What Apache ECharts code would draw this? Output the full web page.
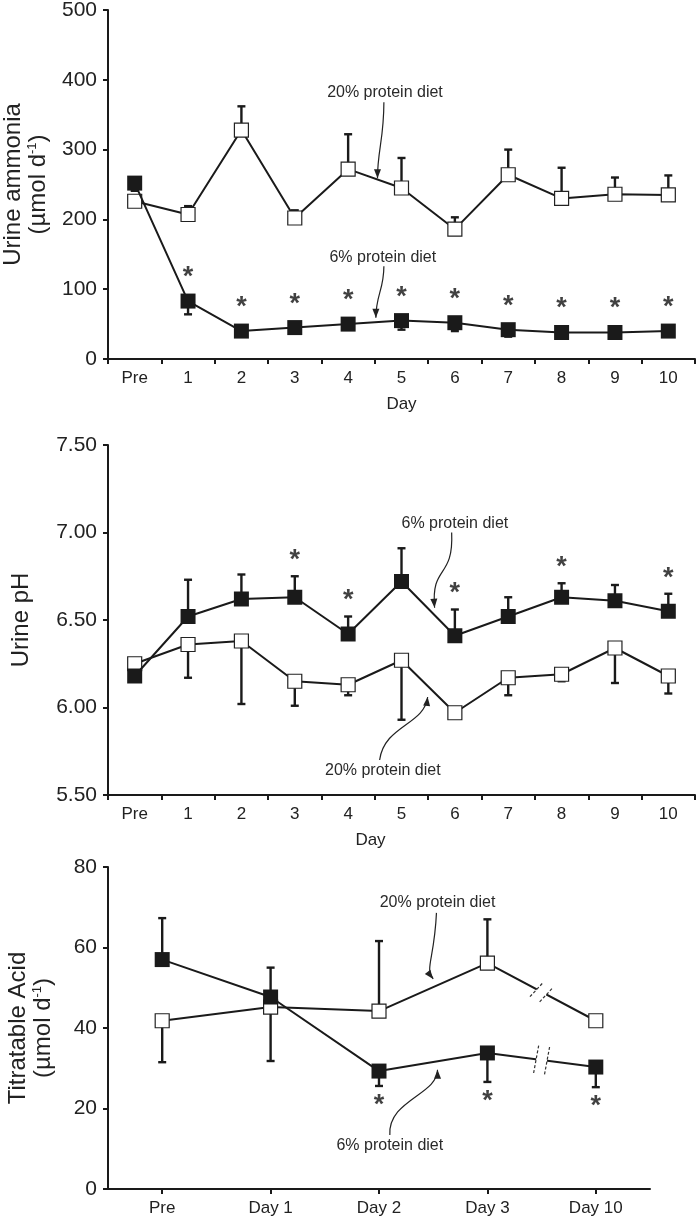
<!DOCTYPE html>
<html>
<head>
<meta charset="utf-8">
<script src="https://cdn.jsdelivr.net/npm/echarts@6/dist/echarts.min.js"></script>
<style>
  html, body { margin: 0; padding: 0; background: #fff; }
  #chart { width: 696px; height: 1221px; }
</style>
</head>
<body>
<div id="chart"></div>
<script>
// categories
const dayCats = ['Pre', '1', '2', '3', '4', '5', '6', '7', '8', '9', '10'];
const taCats = ['Pre', 'Day 1', 'Day 2', 'Day 3', 'Day 10'];

// urine ammonia (µmol/d)
const ammonia20 = [226, 207, 328, 202, 272, 245, 186, 264, 230, 236, 235];
const ammonia20Hi = [null, 219, 362, 213, 322, 288, 203, 300, 274, 260, 263];
const ammonia6 = [252, 83, 40, 45, 50, 55, 52, 42, 38, 38, 40];
const ammonia6Lo = [241, 64, null, null, null, 42, 40, 32, null, null, null];
const ammoniaStars = [0, 1, 1, 1, 1, 1, 1, 1, 1, 1, 1];

// urine pH
const ph6 = [6.18, 6.52, 6.62, 6.63, 6.42, 6.72, 6.41, 6.52, 6.63, 6.61, 6.55];
const ph6Hi = [null, 6.73, 6.76, 6.75, 6.52, 6.91, 6.56, 6.63, 6.71, 6.70, 6.65];
const ph20 = [6.25, 6.36, 6.38, 6.15, 6.13, 6.27, 5.97, 6.17, 6.19, 6.34, 6.18];
const ph20Lo = [null, 6.17, 6.02, 6.01, 6.07, 5.93, 5.96, 6.07, 6.15, 6.14, 6.08];
const phStars = [0, 0, 0, 1, 1, 0, 1, 0, 1, 0, 1];

// titratable acid (µmol/d)
const ta6 = [57, 47.7, 29.3, 33.8, 30.3];
const ta6Err = [67.3, 55, 25.6, 26.6, 25.3];
const ta20 = [41.8, 45.2, 44.2, 56.1, 41.8];
const ta20Err = [31.5, 31.8, 61.6, 67, null];
const taStars = [0, 0, 1, 1, 1];

const FONT = '"Liberation Sans", Arial, Helvetica, sans-serif';
const INK = '#1a1a1a';

const chart = echarts.init(document.getElementById('chart'), null, { renderer: 'canvas' });

function errSeries(grid, values, ends) {
  const data = [];
  values.forEach((v, i) => {
    if (ends[i] != null) data.push([i, v, ends[i]]);
  });
  return {
    type: 'custom',
    xAxisIndex: grid,
    yAxisIndex: grid,
    z: 1,
    silent: true,
    encode: { x: 0, y: [1, 2] },
    data,
    renderItem(params, api) {
      const p0 = api.coord([api.value(0), api.value(1)]);
      const p1 = api.coord([api.value(0), api.value(2)]);
      return {
        type: 'group',
        children: [
          { type: 'line', shape: { x1: p0[0], y1: p0[1], x2: p1[0], y2: p1[1] }, style: { stroke: INK, lineWidth: 2.4 } },
          { type: 'line', shape: { x1: p1[0] - 4, y1: p1[1], x2: p1[0] + 4, y2: p1[1] }, style: { stroke: INK, lineWidth: 2.4 } }
        ]
      };
    }
  };
}

function lineSeries(grid, values, filled, z) {
  return {
    type: 'line',
    xAxisIndex: grid,
    yAxisIndex: grid,
    data: values,
    symbol: 'rect',
    symbolSize: filled ? 15 : 14,
    z,
    lineStyle: { color: INK, width: 2 },
    itemStyle: filled
      ? { color: INK, borderColor: INK, borderWidth: 0 }
      : { color: '#fff', borderColor: '#222', borderWidth: 1.2 }
  };
}

function starSeries(grid, values, ends, flags, below) {
  const data = [];
  flags.forEach((f, i) => {
    if (!f) return;
    const e = ends[i];
    let anchor = values[i];
    let dist = below ? 12 : 10;
    if (e != null && ((below && e < values[i]) || (!below && e > values[i]))) {
      anchor = e;
      dist = below ? 6 : 2;
    }
    data.push({ value: [i, anchor], label: { distance: dist } });
  });
  return {
    type: 'scatter',
    xAxisIndex: grid,
    yAxisIndex: grid,
    symbolSize: 0,
    z: 5,
    silent: true,
    data,
    label: {
      show: true,
      formatter: '*',
      position: below ? 'bottom' : 'top',
      fontSize: 27,
      fontWeight: 'bold',
      fontFamily: FONT,
      color: '#111'
    }
  };
}

const yName = (main, unit) => unit ? main + '\n(µmol d{sup|-1})' : main;

const axisCommon = {
  axisLine: { show: true, lineStyle: { color: INK, width: 2 } },
  axisTick: { show: true, inside: false, length: 5, lineStyle: { color: INK, width: 2 } },
  splitLine: { show: false }
};

function yAxis(grid, min, max, interval, name, unit, gap, fixed) {
  return Object.assign({}, axisCommon, {
    type: 'value',
    gridIndex: grid,
    min, max, interval,
    name: yName(name, unit),
    nameLocation: 'middle',
    nameGap: gap,
    nameTextStyle: {
      fontSize: 24, fontFamily: FONT, color: '#222', lineHeight: 25,
      rich: { sup: { fontSize: 13, fontFamily: FONT, color: '#222', verticalAlign: 'top', lineHeight: 25 } }
    },
    axisLabel: {
      fontSize: 21, fontFamily: FONT, color: '#222', margin: 11,
      formatter: v => fixed ? v.toFixed(2) : String(v)
    }
  });
}

function xAxis(grid, cats, name, align, namePad) {
  return Object.assign({}, axisCommon, {
    type: 'category',
    gridIndex: grid,
    data: cats,
    boundaryGap: true,
    axisTick: Object.assign({}, axisCommon.axisTick, { alignWithLabel: align }),
    axisLabel: { fontSize: 17, fontFamily: FONT, color: '#222', margin: 11 },
    name,
    nameLocation: 'middle',
    nameGap: 37,
    nameTextStyle: { fontSize: 17, fontFamily: FONT, color: '#222', padding: namePad || 0 }
  });
}

chart.setOption({
  animation: false,
  backgroundColor: '#fff',
  textStyle: { fontFamily: FONT },
  grid: [
    { left: 108, top: 10, width: 587, height: 349, outerBoundsMode: 'none', containLabel: false },
    { left: 108, top: 445, width: 587, height: 350, outerBoundsMode: 'none', containLabel: false },
    { left: 108, top: 867, width: 542, height: 322, outerBoundsMode: 'none', containLabel: false }
  ],
  xAxis: [
    xAxis(0, dayCats, 'Day', false),
    xAxis(1, dayCats, 'Day', false, [0, 62, 0, 0]),
    xAxis(2, taCats, '', true)
  ],
  yAxis: [
    yAxis(0, 0, 500, 100, 'Urine ammonia', true, 52, false),
    yAxis(1, 5.5, 7.5, 0.5, 'Urine pH', false, 74, true),
    yAxis(2, 0, 80, 20, 'Titratable Acid', true, 52, false)
  ],
  series: [
    errSeries(0, ammonia20, ammonia20Hi),
    errSeries(0, ammonia6, ammonia6Lo),
    lineSeries(0, ammonia20, false, 2),
    lineSeries(0, ammonia6, true, 3),
    starSeries(0, ammonia6, ammonia6Lo, ammoniaStars, false),

    errSeries(1, ph6, ph6Hi),
    errSeries(1, ph20, ph20Lo),
    lineSeries(1, ph20, false, 2),
    lineSeries(1, ph6, true, 3),
    starSeries(1, ph6, ph6Hi, phStars, false),

    errSeries(2, ta6, ta6Err),
    errSeries(2, ta20, ta20Err),
    lineSeries(2, ta20, false, 2),
    lineSeries(2, ta6, true, 3),
    starSeries(2, ta6, ta6Err, taStars, true)
  ]
});

// ---- annotations (labels with curved arrows, axis-break marks) ----
function toPx(grid, x, y) {
  const i = Math.floor(x);
  const f = x - i;
  const a = chart.convertToPixel({ xAxisIndex: grid, yAxisIndex: grid }, [i, y]);
  if (f === 0) return a;
  const b = chart.convertToPixel({ xAxisIndex: grid, yAxisIndex: grid }, [i + 1, y]);
  return [a[0] + (b[0] - a[0]) * f, a[1]];
}

// text position, then arrow start, control 1, control 2, end (category index, value)
const notes = [
  { grid: 0, text: '20% protein diet', at: [4.69, 381], path: [[4.67, 368], [4.67, 315], [4.55, 299], [4.55, 259]] },
  { grid: 0, text: '6% protein diet', at: [4.65, 145], path: [[4.67, 133], [4.67, 99], [4.52, 92], [4.52, 59]] },
  { grid: 1, text: '6% protein diet', at: [6.0, 7.05], path: [[5.94, 7.0], [5.98, 6.73], [5.55, 6.82], [5.62, 6.57]] },
  { grid: 1, text: '20% protein diet', at: [4.65, 5.64], path: [[4.59, 5.70], [4.68, 5.9], [5.43, 5.9], [5.49, 6.06]] },
  { grid: 2, text: '20% protein diet', at: [2.54, 71.1], path: [[2.53, 68.6], [2.51, 56.9], [2.42, 54.9], [2.50, 52.2]] },
  { grid: 2, text: '6% protein diet', at: [2.1, 10.9], path: [[2.1, 13.4], [2.08, 22.1], [2.54, 23.4], [2.54, 29.6]] }
];

const graphics = [];
notes.forEach(n => {
  const t = toPx(n.grid, n.at[0], n.at[1]);
  graphics.push({
    type: 'text', x: t[0], y: t[1], z: 10,
    style: { text: n.text, fontSize: 16, fontFamily: FONT, fill: '#2a2a2a', align: 'center', verticalAlign: 'middle' }
  });
  const [s, c1, c2, e] = n.path.map(p => toPx(n.grid, p[0], p[1]));
  graphics.push({
    type: 'bezierCurve', z: 10,
    shape: { x1: s[0], y1: s[1], cpx1: c1[0], cpy1: c1[1], cpx2: c2[0], cpy2: c2[1], x2: e[0], y2: e[1] },
    style: { stroke: '#222', lineWidth: 1.2, fill: null }
  });
  let dx = e[0] - c2[0], dy = e[1] - c2[1];
  const len = Math.hypot(dx, dy) || 1;
  dx /= len; dy /= len;
  const L = 9, W = 3.5;
  graphics.push({
    type: 'polygon', z: 10,
    shape: { points: [
      [e[0], e[1]],
      [e[0] - dx * L - dy * W, e[1] - dy * L + dx * W],
      [e[0] - dx * L + dy * W, e[1] - dy * L - dx * W]
    ] },
    style: { fill: '#222' }
  });
});

// axis break between Day 3 and Day 10 on both lines
[[ta20, [0.68, -0.73], 20], [ta6, [0.18, -0.98], 28]].forEach(([vals, dir, len]) => {
  const a = toPx(2, 3, vals[3]);
  const b = toPx(2, 4, vals[4]);
  const ux = (b[0] - a[0]), uy = (b[1] - a[1]);
  const ul = Math.hypot(ux, uy);
  const m = [(a[0] + b[0]) / 2, (a[1] + b[1]) / 2];
  const off = 5.5;
  const p1 = [m[0] - ux / ul * off, m[1] - uy / ul * off];
  const p2 = [m[0] + ux / ul * off, m[1] + uy / ul * off];
  graphics.push({
    type: 'line', z: 11,
    shape: { x1: p1[0], y1: p1[1], x2: p2[0], y2: p2[1] },
    style: { stroke: '#fff', lineWidth: 5 }
  });
  [p1, p2].forEach(p => {
    graphics.push({
      type: 'line', z: 12,
      shape: {
        x1: p[0] - dir[0] * len / 2, y1: p[1] - dir[1] * len / 2,
        x2: p[0] + dir[0] * len / 2, y2: p[1] + dir[1] * len / 2
      },
      style: { stroke: '#333', lineWidth: 1.2, lineDash: [3, 2] }
    });
  });
});

chart.setOption({ graphic: graphics });
</script>
</body>
</html>
